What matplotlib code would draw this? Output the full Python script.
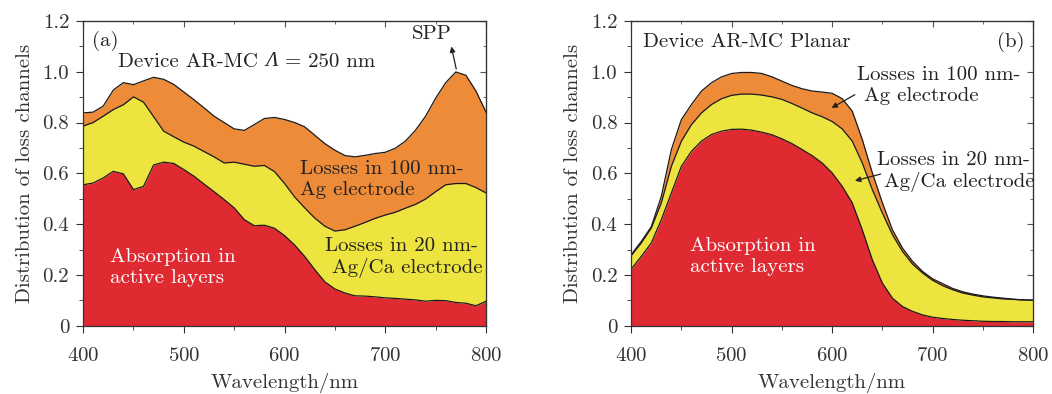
import matplotlib
matplotlib.use('Agg')
import matplotlib.pyplot as plt
from matplotlib.ticker import MultipleLocator

plt.rcParams['font.family'] = ['cmr10', 'DejaVu Serif']
plt.rcParams['mathtext.fontset'] = 'cm'
plt.rcParams['axes.formatter.use_mathtext'] = True

wl = list(range(400, 801, 10))

# panel (a): Device AR-MC, Lambda = 250 nm  (cumulative tops)
a_active = [0.555, 0.562, 0.582, 0.608, 0.598, 0.536, 0.549, 0.633, 0.644, 0.639,
            0.615, 0.589, 0.558, 0.528, 0.497, 0.464, 0.418, 0.394, 0.396, 0.384,
            0.355, 0.318, 0.273, 0.221, 0.173, 0.145, 0.129, 0.118, 0.117, 0.114,
            0.110, 0.108, 0.105, 0.102, 0.097, 0.100, 0.099, 0.092, 0.089, 0.079, 0.097]
a_agca = [0.786, 0.800, 0.825, 0.851, 0.870, 0.901, 0.880, 0.823, 0.766, 0.744,
          0.723, 0.707, 0.686, 0.665, 0.641, 0.644, 0.636, 0.628, 0.631, 0.607,
          0.560, 0.507, 0.464, 0.424, 0.392, 0.373, 0.378, 0.392, 0.407, 0.423,
          0.436, 0.447, 0.463, 0.478, 0.499, 0.528, 0.555, 0.560, 0.560, 0.544, 0.523]
a_ag = [0.838, 0.841, 0.865, 0.928, 0.957, 0.949, 0.964, 0.978, 0.970, 0.950,
        0.920, 0.890, 0.858, 0.825, 0.800, 0.775, 0.769, 0.792, 0.816, 0.820,
        0.812, 0.800, 0.783, 0.750, 0.717, 0.691, 0.670, 0.665, 0.671, 0.678,
        0.683, 0.699, 0.727, 0.770, 0.825, 0.896, 0.957, 0.999, 0.986, 0.924, 0.841]

# panel (b): Device AR-MC Planar
b_active = [0.223, 0.273, 0.326, 0.418, 0.523, 0.628, 0.687, 0.727, 0.753, 0.766,
            0.773, 0.774, 0.770, 0.762, 0.752, 0.736, 0.717, 0.694, 0.670, 0.641,
            0.602, 0.549, 0.484, 0.378, 0.260, 0.168, 0.109, 0.076, 0.057, 0.043,
            0.034, 0.029, 0.025, 0.022, 0.020, 0.018, 0.017, 0.017, 0.016, 0.016, 0.016]
b_agca = [0.276, 0.326, 0.385, 0.484, 0.628, 0.727, 0.792, 0.838, 0.871, 0.894,
          0.907, 0.912, 0.912, 0.908, 0.901, 0.891, 0.875, 0.857, 0.838, 0.823,
          0.804, 0.775, 0.727, 0.641, 0.536, 0.444, 0.359, 0.293, 0.243, 0.208,
          0.179, 0.158, 0.142, 0.129, 0.121, 0.114, 0.110, 0.106, 0.104, 0.102, 0.101]
b_ag = [0.280, 0.332, 0.390, 0.510, 0.694, 0.812, 0.871, 0.924, 0.957, 0.980,
        0.993, 0.997, 0.997, 0.993, 0.980, 0.963, 0.946, 0.933, 0.924, 0.920,
        0.915, 0.894, 0.845, 0.733, 0.602, 0.484, 0.378, 0.306, 0.254, 0.214,
        0.185, 0.166, 0.147, 0.134, 0.125, 0.118, 0.113, 0.109, 0.105, 0.102, 0.101]

red = '#e02a32'
yellow = '#ede43f'
orange = '#ed8b39'
ink = '#222222'
fs = 15
ls = 1.2


def draw_panel(ax, active, agca, ag):
    ax.fill_between(wl, 0, active, color=red, lw=0)
    ax.fill_between(wl, active, agca, color=yellow, lw=0)
    ax.fill_between(wl, agca, ag, color=orange, lw=0)
    for s in (active, agca, ag):
        ax.plot(wl, s, color='#1a1a1a', lw=0.9)
    ax.set_xlim(400, 800)
    ax.set_ylim(0, 1.2)
    ax.xaxis.set_major_locator(MultipleLocator(100))
    ax.xaxis.set_minor_locator(MultipleLocator(50))
    ax.yaxis.set_minor_locator(MultipleLocator(0.1))
    ax.set_yticks([0, 0.2, 0.4, 0.6, 0.8, 1.0, 1.2])
    ax.set_yticklabels(['0', '0.2', '0.4', '0.6', '0.8', '1.0', '1.2'])
    ax.tick_params(which='both', direction='out', labelsize=fs, colors='#333333')
    ax.tick_params(axis='x', pad=10)
    ax.tick_params(axis='y', pad=5)
    ax.tick_params(which='major', length=5)
    ax.tick_params(which='minor', length=3)
    top = ax.secondary_xaxis('top')
    top.xaxis.set_major_locator(MultipleLocator(100))
    top.xaxis.set_minor_locator(MultipleLocator(50))
    top.tick_params(which='both', direction='in', labeltop=False, colors='#555555')
    right = ax.secondary_yaxis('right')
    right.yaxis.set_major_locator(MultipleLocator(0.2))
    right.yaxis.set_minor_locator(MultipleLocator(0.1))
    right.tick_params(which='both', direction='in', labelright=False, colors='#555555')
    for sec in (top, right):
        sec.tick_params(which='major', length=4)
        sec.tick_params(which='minor', length=2)
    for sp in ax.spines.values():
        sp.set_color('#333333')
        sp.set_linewidth(0.9)
    ax.set_xlabel('Wavelength/nm', fontsize=fs, color='#333333', labelpad=6)
    ax.set_ylabel('Distribution of loss channels', fontsize=fs, color='#333333',
                  labelpad=6)


fig = plt.figure(figsize=(10.52, 3.94), dpi=100)
ax1 = fig.add_axes([0.079, 0.173, 0.383, 0.774])
ax2 = fig.add_axes([0.600, 0.173, 0.382, 0.774])

draw_panel(ax1, a_active, a_agca, a_ag)
ax1.text(409, 1.12, '(a)', fontsize=fs, va='center', color=ink)
t0 = ax1.text(435, 1.04, 'Device AR-MC ', fontsize=fs, va='center', color=ink)
t1 = ax1.annotate('\u039b', xy=(1, 0), xycoords=t0, va='bottom', fontsize=fs,
                  family='Liberation Serif', style='italic', color=ink)
ax1.annotate(' = 250 nm', xy=(1, 0), xycoords=t1, va='bottom', fontsize=fs,
             color=ink)
ax1.text(746, 1.15, 'SPP', fontsize=fs, ha='center', va='center', color=ink)
ax1.annotate('', xy=(765, 1.11), xytext=(771, 1.0),
             arrowprops=dict(arrowstyle='-|>', color=ink, lw=0.9,
                             mutation_scale=8))
ax1.text(615, 0.576, 'Losses in 100 nm-\nAg electrode', fontsize=fs,
         va='center', color=ink, linespacing=ls)
ax1.text(640, 0.268, 'Losses in 20 nm-\n Ag/Ca electrode', fontsize=fs,
         va='center', color=ink, linespacing=ls)
ax1.text(427, 0.228, 'Absorption in\nactive layers', fontsize=fs,
         va='center', color='white', linespacing=ls)

draw_panel(ax2, b_active, b_agca, b_ag)
ax2.text(412, 1.116, 'Device AR-MC Planar', fontsize=fs, va='center', color=ink)
ax2.text(778, 1.116, '(b)', fontsize=fs, ha='center', va='center', color=ink)
ax2.text(625, 0.947, 'Losses in 100 nm-\n Ag electrode', fontsize=fs,
         va='center', color=ink, linespacing=ls)
ax2.annotate('', xy=(597, 0.852), xytext=(625, 0.915),
             arrowprops=dict(arrowstyle='-|>', color=ink, lw=0.9,
                             mutation_scale=8))
ax2.text(645, 0.607, 'Losses in 20 nm-\n Ag/Ca electrode', fontsize=fs,
         va='center', color=ink, linespacing=ls)
ax2.annotate('', xy=(620, 0.568), xytext=(651, 0.60),
             arrowprops=dict(arrowstyle='-|>', color=ink, lw=0.9,
                             mutation_scale=8))
ax2.text(459, 0.274, 'Absorption in\nactive layers', fontsize=fs,
         va='center', color='white', linespacing=ls)

fig.savefig('out.png', dpi=100)
